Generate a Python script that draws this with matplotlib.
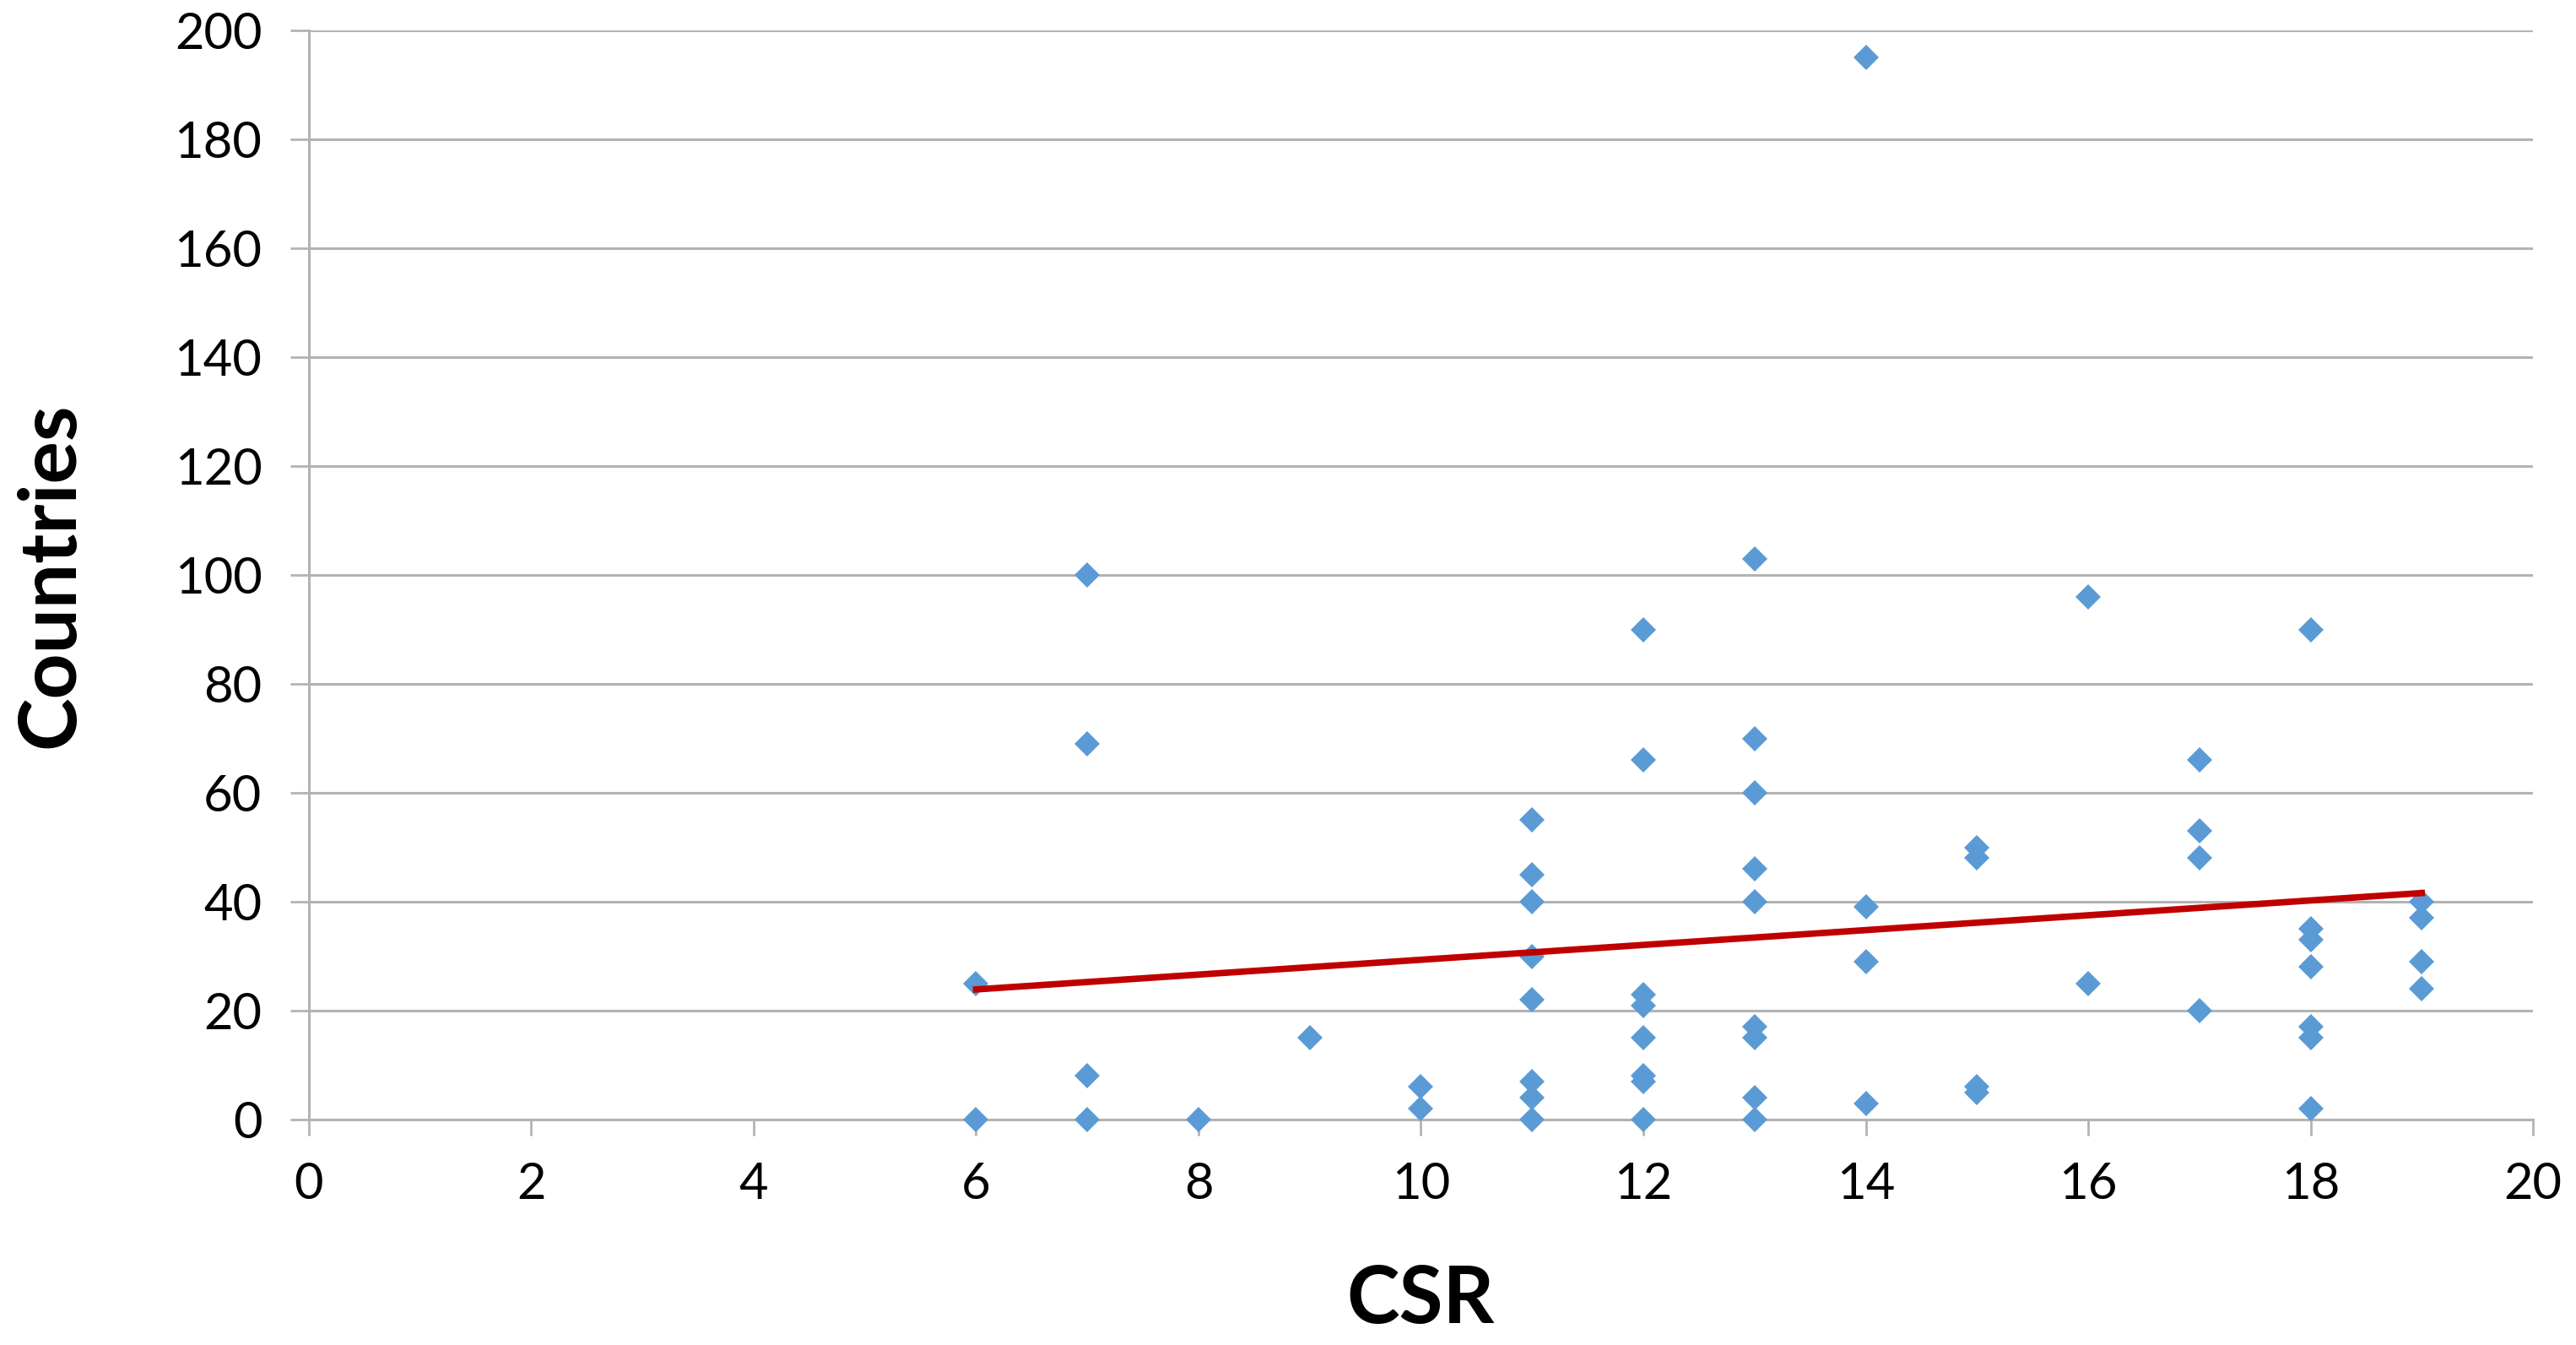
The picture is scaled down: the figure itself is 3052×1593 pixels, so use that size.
import matplotlib
matplotlib.use("Agg")
import matplotlib.pyplot as plt

# CSR score for each country point
csr = [6, 6,
       7, 7, 7, 7,
       8,
       9,
       10, 10,
       11, 11, 11, 11, 11, 11, 11, 11,
       12, 12, 12, 12, 12, 12, 12, 12,
       13, 13, 13, 13, 13, 13, 13, 13, 13,
       14, 14, 14, 14,
       15, 15, 15, 15,
       16, 16,
       17, 17, 17, 17,
       18, 18, 18, 18, 18, 18, 18,
       19, 19, 19, 19]

# number of countries
countries = [0, 25,
             100, 69, 8, 0,
             0,
             15,
             6, 2,
             55, 45, 40, 30, 22, 7, 4, 0,
             90, 66, 23, 21, 15, 8, 7, 0,
             103, 70, 60, 46, 40, 17, 15, 4, 0,
             195, 39, 29, 3,
             50, 48, 6, 5,
             96, 25,
             66, 53, 48, 20,
             90, 35, 33, 28, 17, 15, 2,
             40, 37, 29, 24]

# linear trendline
trend_x = [6, 19]
trend_y = [23.9, 41.6]

x_ticks = list(range(0, 21, 2))
y_ticks = list(range(0, 201, 20))

plt.rcParams['font.family'] = ['Lato', 'DejaVu Sans']

fig = plt.figure(figsize=(30.52, 15.93), dpi=100)
ax = fig.add_axes([0.1199, 0.1676, 0.8634, 0.8098])

grey = '#b3b3b3'

ax.set_xlim(0, 20)
ax.set_ylim(0, 200)
ax.set_xticks(x_ticks)
ax.set_yticks(y_ticks)

ax.yaxis.grid(True, color=grey, linewidth=2.2)
ax.set_axisbelow(True)

for side in ['top', 'right']:
    ax.spines[side].set_visible(False)
for side in ['left', 'bottom']:
    ax.spines[side].set_color(grey)
    ax.spines[side].set_linewidth(2.2)

ax.tick_params(axis='x', direction='out', length=14, width=2, color=grey,
               labelsize=43, pad=22)
ax.tick_params(axis='y', direction='out', length=16, width=2, color=grey,
               labelsize=43, pad=24)

# scatter points
ax.plot(csr, countries, linestyle='none', marker='D', markersize=15.5,
        color='#5b9bd5', markeredgewidth=0, clip_on=False, zorder=3)

# trendline
ax.plot(trend_x, trend_y, color='#c00000', linewidth=5.5, zorder=4)

ax.set_xlabel('CSR', fontsize=68, fontweight='bold', labelpad=48)
ax.set_ylabel('Countries', fontsize=68, fontweight='bold', labelpad=74)

fig.savefig('out.png', dpi=100)
